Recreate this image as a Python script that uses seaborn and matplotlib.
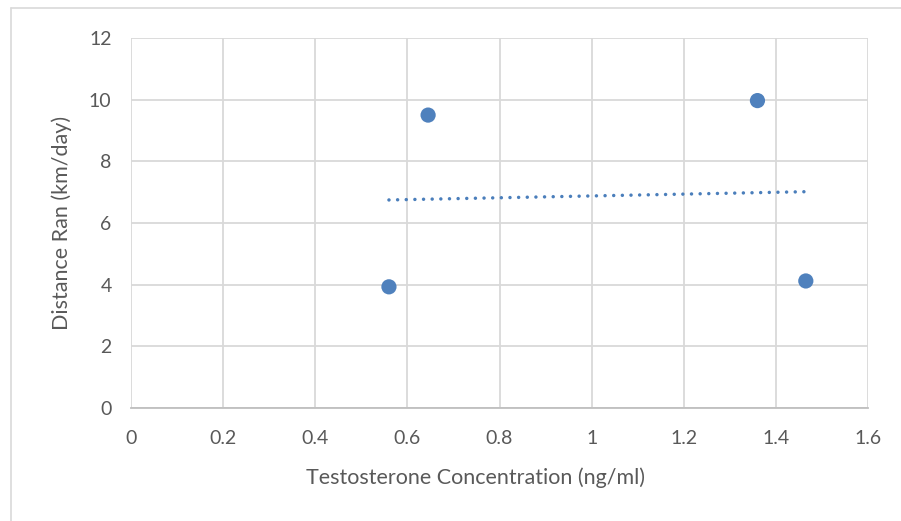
import numpy as np
import pandas as pd
import matplotlib
matplotlib.use("Agg")
import matplotlib.pyplot as plt
import seaborn as sns
from matplotlib.lines import Line2D

testosterone = [0.56, 0.645, 1.36, 1.465]
distance = [3.93, 9.5, 9.97, 4.12]
x_ticks = [0, 0.2, 0.4, 0.6, 0.8, 1, 1.2, 1.4, 1.6]
y_ticks = [0, 2, 4, 6, 8, 10, 12]
x_tick_labels = ["0", "0.2", "0.4", "0.6", "0.8", "1", "1.2", "1.4", "1.6"]

df = pd.DataFrame({"t": testosterone, "d": distance})

sns.set_style("white")
plt.rcParams["font.family"] = ["Lato", "DejaVu Sans"]

fig = plt.figure(figsize=(9.01, 5.21), dpi=100)
ax = fig.add_axes([131/901, 1 - 408/521, (868-131)/901, (408-38)/521])

grid_c = "#d9d9d9"
text_c = "#595959"
blue = "#4a7ebb"

sns.scatterplot(data=df, x="t", y="d", ax=ax, s=120, color="#4f81bd",
                edgecolor="none", zorder=3)

# linear trendline
slope, intercept = np.polyfit(df["t"], df["d"], 1)
xs = np.array([min(testosterone), max(testosterone)])
sns.lineplot(x=xs, y=slope * xs + intercept, ax=ax, color=blue,
             linestyle=(0, (0.01, 2.48)), linewidth=2.5, zorder=2,
             dash_capstyle="round")

ax.set_xlim(0, 1.6)
ax.set_ylim(0, 12)
ax.set_xticks(x_ticks)
ax.set_xticklabels(x_tick_labels)
ax.set_yticks(y_ticks)
ax.grid(True, color=grid_c, linewidth=1.3)
ax.set_axisbelow(True)
for s in ["top", "right", "left"]:
    ax.spines[s].set_visible(False)
ax.spines["bottom"].set_color("#bfbfbf")
ax.spines["bottom"].set_linewidth(1.3)
ax.tick_params(axis="both", length=0, labelsize=14, colors=text_c)
ax.tick_params(axis="x", pad=16)
ax.tick_params(axis="y", pad=14)
ax.set_xlabel("Testosterone Concentration (ng/ml)", fontsize=15.5, color=text_c)
ax.set_ylabel("Distance Ran (km/day)", fontsize=15.5, color=text_c, labelpad=12)
ax.xaxis.set_label_coords((475 - 131) / 737, -(478 - 408) / 370, transform=ax.transAxes)
ax.xaxis.label.set_verticalalignment("center")

# chart border lines
fig.add_artist(Line2D([11/901, 1], [1 - 8/521, 1 - 8/521], transform=fig.transFigure,
                      color="#d9d9d9", linewidth=1.2))
fig.add_artist(Line2D([11/901, 11/901], [0, 1 - 8/521], transform=fig.transFigure,
                      color="#d9d9d9", linewidth=1.2))

fig.savefig("out.png", dpi=100, facecolor="white")
